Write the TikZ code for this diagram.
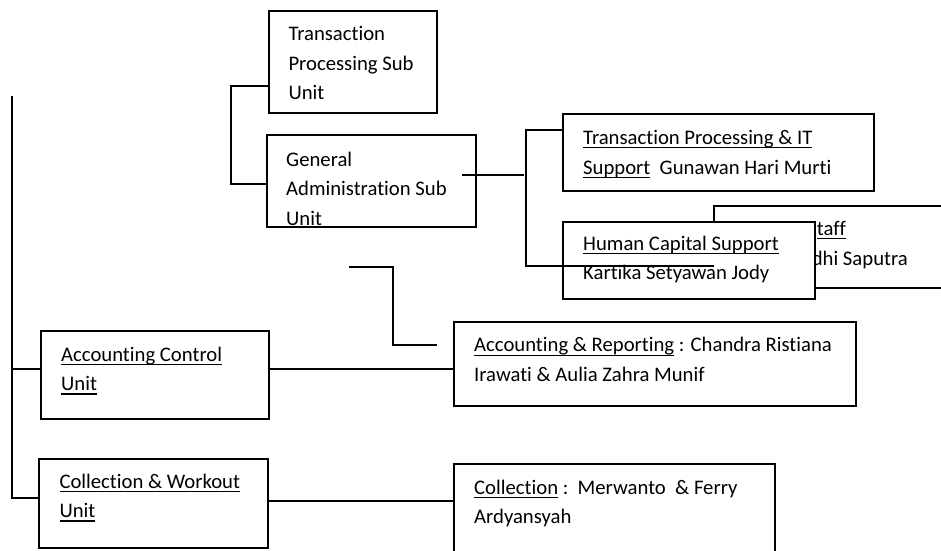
\documentclass[tikz,border=0pt]{standalone}
\usepackage{fontspec}
\setmainfont{Carlito}[Ligatures={NoCommon,NoContextual}]

% underline at a fixed depth below the baseline
\newlength{\ulwd}
\newcommand{\ulin}[1]{\leavevmode\settowidth{\ulwd}{#1}\rlap{\rule[-3.9pt]{\ulwd}{1.3pt}}#1}

\tikzset{
  unitbox/.style={draw, line width=1.5pt, fill=white, inner sep=0pt, outer sep=0pt, anchor=north west},
  txt/.style={anchor=north west, inner sep=0pt, text width=420pt, align=flush left,
    font=\fontsize{20.7}{29.5}\selectfont, execute at begin node=\strut},
  frag/.style={inner sep=0pt, font=\fontsize{20.7}{29.5}\selectfont},
  link/.style={line width=1.6pt}
}

\begin{document}
\begin{tikzpicture}[x=1pt, y=-1pt]
    \useasboundingbox (0,0) rectangle (941,550);
    \begin{scope}
        \clip (0,0) rectangle (941,550);

        % Sub units
        \node[unitbox, minimum width=168, minimum height=102] (tpsu) at (269,11) {};
        \node[txt] (tpsuText) at ([shift={(19.3,8.85)}]tpsu.north west) {Transaction\\Processing Sub\\Unit};
        \node[unitbox, minimum width=209, minimum height=92] (gasu) at (267,135) {};
        \node[txt] (gasuText) at ([shift={(19,10.35)}]gasu.north west) {General\\Administration Sub\\Unit};

        % Support staff
        \node[unitbox, minimum width=311, minimum height=77] (tpit) at (563,114) {};
        \node[txt] (tpitText) at ([shift={(20,9.65)}]tpit.north west) {\ulin{Transaction Processing \& IT}\\\ulin{Support}\ \ Gunawan Hari Murti};
        \node[unitbox, minimum width=246, minimum height=82] (staff) at (714,206) {};
        \node[frag, anchor=base east] (staffHead) at (846,235) {\ulin{taff}};
        \node[frag, anchor=base east] (staffName) at (908,265) {dhi Saputra};
        \node[unitbox, minimum width=252, minimum height=77] (hcs) at (563,222) {};
        \node[txt] (hcsText) at ([shift={(20,7.35)}]hcs.north west) {\ulin{Human Capital Support}\\Kartika Setyawan Jody};

        % Accounting
        \node[unitbox, minimum width=228, minimum height=88] (acu) at (41,331) {};
        \node[txt] (acuText) at ([shift={(20,9.35)}]acu.north west) {\ulin{Accounting Control}\\\ulin{Unit}};
        \node[unitbox, minimum width=402, minimum height=84] (acr) at (454,322) {};
        \node[txt] (acrText) at ([shift={(20,9.05)}]acr.north west) {\ulin{Accounting \& Reporting} : Chandra Ristiana\\Irawati \& Aulia Zahra Munif};

        % Collection
        \node[unitbox, minimum width=229, minimum height=89] (cwu) at (39,459) {};
        \node[txt] (cwuText) at ([shift={(20.3,8.35)}]cwu.north west) {\ulin{Collection \& Workout}\\\ulin{Unit}};
        \node[unitbox, minimum width=321, minimum height=101] (coll) at (454,464) {};
        \node[txt] (collText) at ([shift={(20,9.35)}]coll.north west) {\ulin{Collection} :\ \ Merwanto\ \ \& Ferry\\Ardyansyah};

        % Connectors
        \coordinate (trunkTop) at (12,96);
        \draw[link] (trunkTop) |- ([shift={(0,-6)}]acu.west);
        \draw[link] (trunkTop) |- ([shift={(0,-5.5)}]cwu.west);
        \draw[link] ([shift={(0,24)}]tpsu.west) -- ++(-38,0) |- ([shift={(0,3)}]gasu.west);
        \draw[link] ([shift={(-14,-6)}]gasu.east) -- ++(62,0);
        \draw[link] ([shift={(0,-22.5)}]tpit.west) -- ++(-37,0) |- ([shift={(0,19)}]staff.west);
        \coordinate (floatA) at (349,267);
        \coordinate (floatB) at (437,345);
        \draw[link] (floatA) -- ++(44,0) |- (floatB);
        \draw[link] ([shift={(0,-6)}]acu.east) -- ([shift={(0,5)}]acr.west);
        \draw[link] ([shift={(0,-2.5)}]cwu.east) -- ([shift={(0,-13.5)}]coll.west);
    \end{scope}
\end{tikzpicture}
\end{document}
